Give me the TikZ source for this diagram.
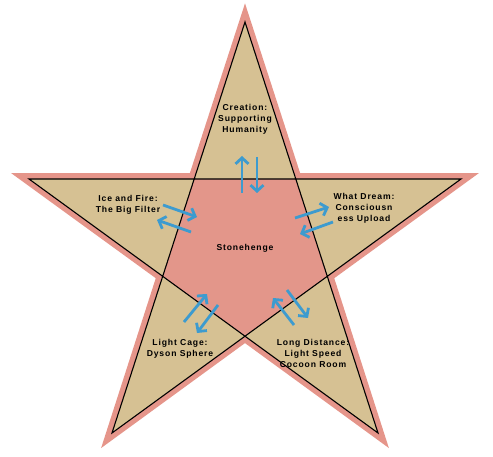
\documentclass[tikz,border=0pt]{standalone}
\usepackage{fontspec}
\setmainfont{Liberation Sans}
\newfontfamily\tagfont[LetterSpace=10]{Liberation Sans}
\usetikzlibrary{arrows.meta}
\definecolor{StarPink}{HTML}{E5958A}
\definecolor{StarTan}{HTML}{D6C193}
\definecolor{CoreSalmon}{HTML}{E3968A}
\definecolor{FlowBlue}{HTML}{3D9BCF}

\begin{document}
\begin{tikzpicture}[x=1pt, y=-1pt,
    tag/.style={font={\tagfont\bfseries\fontsize{8.6}{11}\selectfont}, align=center, text=black},
    flow/.style={-{Straight Barb[length=6pt, width=13pt]}, FlowBlue, line width=2.8pt}]
                \useasboundingbox (0,0) rectangle (493,457);

                % Star tips and inner corners
                \coordinate (tipT) at (245,22);
                \coordinate (tipR) at (461,179);
                \coordinate (tipBR) at (378,433);
                \coordinate (tipBL) at (112,433);
                \coordinate (tipL) at (29,179);
                \coordinate (inTR) at (296,179);
                \coordinate (inR) at (327.5,276);
                \coordinate (inB) at (245,336);
                \coordinate (inL) at (162.5,276);
                \coordinate (inTL) at (194,179);

                % Star body with pink rim
                \draw[StarPink, line width=11.5pt, line join=miter, fill=StarTan]
                    (tipT) -- (inTR) -- (tipR) -- (inR) -- (tipBR) -- (inB)
                    -- (tipBL) -- (inL) -- (tipL) -- (inTL) -- cycle;
                \fill[StarTan]
                    (tipT) -- (inTR) -- (tipR) -- (inR) -- (tipBR) -- (inB)
                    -- (tipBL) -- (inL) -- (tipL) -- (inTL) -- cycle;

                % Centre pentagon
                \fill[CoreSalmon] (inTL) -- (inTR) -- (inR) -- (inB) -- (inL) -- cycle;

                % Pentagram lines
                \draw[line width=1.1pt, line join=miter]
                    (tipT) -- (tipBL) -- (tipR) -- (tipL) -- (tipBR) -- cycle;

                % Labels
                \node[tag] (creation) at (245,119) {Creation:\\Supporting\\Humanity};
                \node[tag] (icefire) at (128,205) {Ice and Fire:\\The Big Filter};
                \node[tag] (dream) at (364,208) {What Dream:\\Consciousn\\ess Upload};
                \node[tag] (stonehenge) at (245,248) {Stonehenge};
                \node[tag] (cage) at (180,349) {Light Cage:\\Dyson Sphere};
                \node[tag] (distance) at (313,353) {Long Distance:\\Light Speed\\Cocoon Room};

                % Arrow ends
                \coordinate (upA) at (242,193);   \coordinate (upB) at (242,156);
                \coordinate (dnA) at (257,157);   \coordinate (dnB) at (257,193);
                \coordinate (lfA) at (163,205);   \coordinate (lfB) at (197,217);
                \coordinate (lfC) at (191,232);   \coordinate (lfD) at (157,220);
                \coordinate (rtA) at (295,218);   \coordinate (rtB) at (329,207);
                \coordinate (rtC) at (333,222);   \coordinate (rtD) at (300,234);
                \coordinate (blA) at (184,322);   \coordinate (blB) at (207,294);
                \coordinate (blC) at (218,305);   \coordinate (blD) at (197,333);
                \coordinate (brA) at (294,325);   \coordinate (brB) at (273,298);
                \coordinate (brC) at (287,290);   \coordinate (brD) at (308,318);

                % Exchange arrows
                \draw[flow] (upA) -- (upB);
                \draw[flow] (dnA) -- (dnB);
                \draw[flow] (lfA) -- (lfB);
                \draw[flow] (lfC) -- (lfD);
                \draw[flow] (rtA) -- (rtB);
                \draw[flow] (rtC) -- (rtD);
                \draw[flow] (blA) -- (blB);
                \draw[flow] (blC) -- (blD);
                \draw[flow] (brA) -- (brB);
                \draw[flow] (brC) -- (brD);
\end{tikzpicture}
\end{document}
